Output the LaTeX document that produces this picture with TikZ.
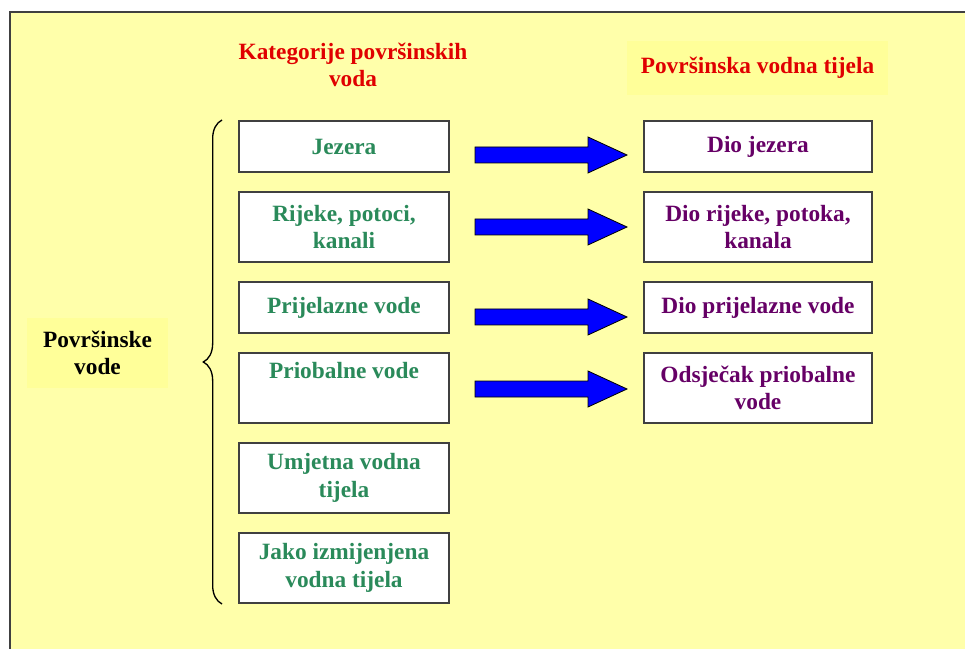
\documentclass[tikz,border=0pt]{standalone}
\usepackage{fontspec}
\setmainfont{Liberation Serif}
\usetikzlibrary{positioning,calc,decorations.pathreplacing}
\definecolor{Sheet}{HTML}{FFFFAA}
\definecolor{LabelFill}{HTML}{FFFF99}
\definecolor{Frame}{HTML}{404040}
\definecolor{HeadRed}{HTML}{E00000}
\definecolor{CatGreen}{HTML}{2A8A5A}
\definecolor{BodyPurple}{HTML}{660066}
\definecolor{ArrowBlue}{HTML}{0000FF}
\begin{document}
\begin{tikzpicture}[x=0.75pt,y=-0.75pt,
  node distance=13.5pt and 144.75pt,
  every node/.style={font=\bfseries\fontsize{17.5}{20.5}\selectfont},
  cat/.style={draw=Frame,line width=1.5pt,fill=white,align=center,text=CatGreen,minimum width=157.5pt,minimum height=38.25pt,inner sep=0pt},
  cattwo/.style={cat,minimum height=52.5pt},
  body/.style={cat,text=BodyPurple,minimum width=171pt},
  bodytwo/.style={body,minimum height=52.5pt},
  head/.style={text=HeadRed,align=center},
  label/.style={fill=LabelFill,align=center,inner sep=0pt},
  blockarr/.style={draw=black,line width=0.6pt,fill=ArrowBlue,line join=miter}
]
\useasboundingbox (0,0) rectangle (965,649);
\fill[Sheet] (10,12) rectangle (965,649);
\draw[Frame,line width=1.5pt] (10,649) -- (10,12) -- (965,12);
% headings
\node[head] (cathead) at (353,65) {Kategorije površinskih\\voda};
\node[head,label,minimum width=195.75pt,minimum height=40.5pt] (bodyhead) at (757.5,68) {Površinska vodna tijela};
\node[label,minimum width=105.75pt,minimum height=52.5pt] (surf) at (97.5,353) {Površinske\\vode};
% categories
\node[cat,anchor=north west] (jez) at (238,120) {Jezera};
\node[cattwo,below=of jez] (rij) {Rijeke, potoci,\\kanali};
\node[cat,below=of rij] (pri) {Prijelazne vode};
\node[cattwo,below=of pri] (prio) {Priobalne vode\\\strut};
\node[cattwo,below=of prio] (umj) {Umjetna vodna\\tijela};
\node[cattwo,below=of umj] (jako) {Jako izmijenjena\\vodna tijela};
% water bodies
\node[body,right=of jez] (djez) {Dio jezera};
\node[bodytwo,right=of rij] (drij) {Dio rijeke, potoka,\\kanala};
\node[body,right=of pri] (dpri) {Dio prijelazne vode};
\node[bodytwo,right=of prio] (odsj) {Odsječak priobalne\\vode};
\draw[decorate,decoration={brace,amplitude=14pt},line width=1pt]
  ($(jako.south west)+(-16,0)$) -- ($(jez.north west)+(-16,0)$);
\foreach \from/\to/\dy in {jez/djez/8.5,rij/drij/0,pri/dpri/9.5,prio/odsj/1}
  \draw[blockarr] ($(\from.east)+(25,\dy-8)$) -- ($(\to.west)+(-55,\dy-8)$)
    -- ($(\to.west)+(-55,\dy-18)$) -- ($(\to.west)+(-16,\dy)$)
    -- ($(\to.west)+(-55,\dy+18)$) -- ($(\to.west)+(-55,\dy+8)$)
    -- ($(\from.east)+(25,\dy+8)$) -- cycle;
\end{tikzpicture}
\end{document}
